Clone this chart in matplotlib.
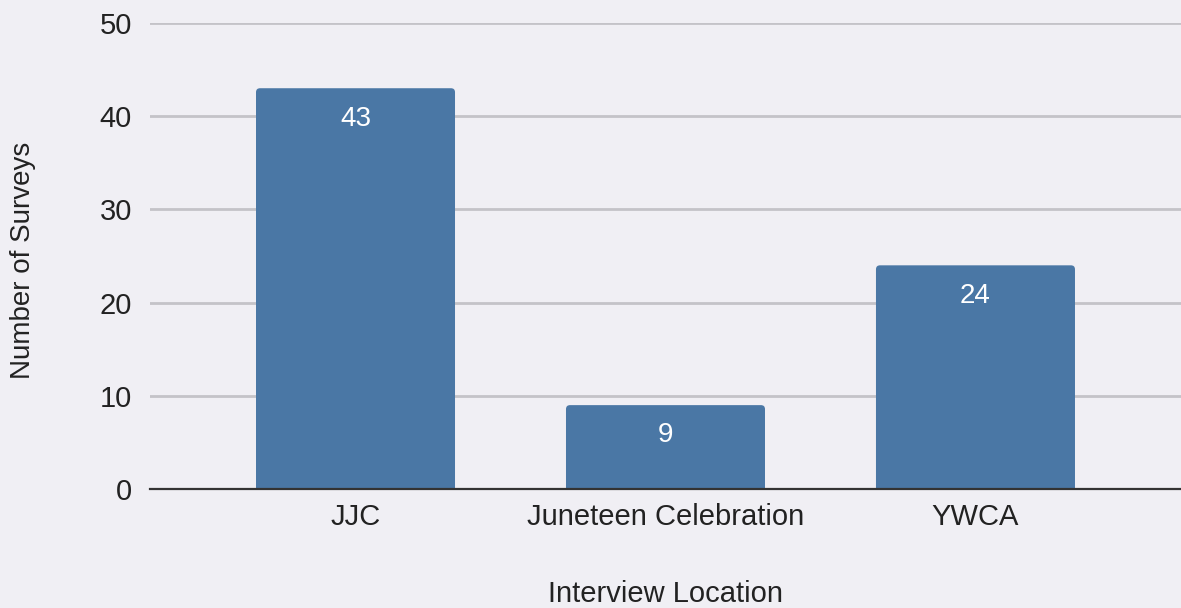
import matplotlib.pyplot as plt
from matplotlib.patches import FancyBboxPatch
import numpy as np

locations = ["JJC", "Juneteen Celebration", "YWCA"]
surveys = [43, 9, 24]
yticks = [0, 10, 20, 30, 40, 50]

bg = "#f0eff4"
bar_color = "#4a77a5"

plt.rcParams['font.family'] = ['Liberation Sans', 'DejaVu Sans']

fig = plt.figure(figsize=(11.81, 6.08), dpi=100, facecolor=bg)
ax = fig.add_axes([0.127, 0.1957, 0.873, 0.7665], facecolor=bg)

x = np.arange(len(locations))
bars = ax.bar(x, surveys, width=0.642, color=bar_color, zorder=3)
for b, v in zip(bars, surveys):
    b.set_visible(False)                 # swap in a slightly rounded box
    rb = FancyBboxPatch((b.get_x(), -1), b.get_width(), v + 1,
                        boxstyle="round,pad=0,rounding_size=0.013",
                        mutation_aspect=33.3, color=bar_color, zorder=3,
                        linewidth=0)
    ax.add_patch(rb)
    ax.text(b.get_x() + b.get_width() / 2, v - 3.25, str(v), ha="center",
            va="center", color="white", fontsize=20, zorder=4)

ax.set_xlim(-0.663, 2.663)
ax.set_ylim(0, 50)
ax.set_yticks(yticks)
ax.set_xticks(x)
ax.set_xticklabels(locations)
ax.tick_params(length=0, labelsize=21, colors="#222222")
ax.tick_params(axis="y", pad=13)
ax.tick_params(axis="x", pad=10)
ax.grid(axis="y", color="#c4c3c8", linewidth=2, zorder=0)
ax.set_axisbelow(True)
for s in ["top", "right", "left"]:
    ax.spines[s].set_visible(False)
ax.spines["bottom"].set_color("#333333")
ax.spines["bottom"].set_linewidth(1.6)
ax.spines["bottom"].set_zorder(5)

ax.set_xlabel("Interview Location", fontsize=21, color="#222222", labelpad=35)
ax.set_ylabel("Number of Surveys", fontsize=20, color="#222222", labelpad=46)
ax.yaxis.label.set_y(0.49)

fig.savefig("out.png", dpi=100, facecolor=bg)
